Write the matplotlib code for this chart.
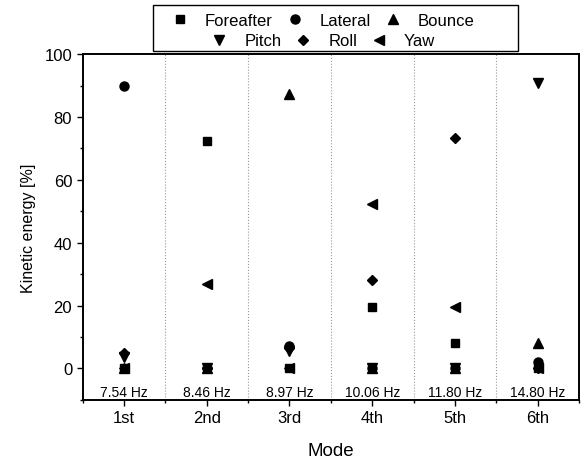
import numpy as np
import matplotlib.pyplot as plt
from matplotlib.patches import Rectangle

plt.rcParams['font.family'] = ['Liberation Sans', 'DejaVu Sans']

modes = ['1st', '2nd', '3rd', '4th', '5th', '6th']
freqs = ['7.54 Hz', '8.46 Hz', '8.97 Hz', '10.06 Hz', '11.80 Hz', '14.80 Hz']

foreafter = [0, 72.5, 0, 19.5, 8, 0]
lateral = [90, 0, 7.3, 0, 0, 2]
bounce = [0, 0, 87.3, 0, 0, 8.2]
pitch = [3.5, 0, 5.5, 0, 0, 90.7]
roll = [4.8, 0, 6.5, 28, 73.2, 0]
yaw = [0, 26.8, 0, 52.2, 19.5, 0]

series = [
    ('Foreafter', foreafter, 's', 5.5),
    ('Lateral', lateral, 'o', 6.5),
    ('Bounce', bounce, '^', 6.5),
    ('Pitch', pitch, 'v', 6.5),
    ('Roll', roll, 'D', 5),
    ('Yaw', yaw, '<', 6.5),
]


def plot():
    fig = plt.figure(figsize=(5.82, 4.64), dpi=100)
    ax = fig.add_axes([0.142, 0.136, 0.853, 0.745])
    x = np.arange(1, len(modes) + 1)

    handles = []
    for name, vals, mk, ms in series:
        h, = ax.plot(x, vals, mk, color='black', markersize=ms, label=name,
                     linestyle='none')
        handles.append(h)

    for i, f in enumerate(freqs):
        ax.text(x[i], -7.6, f, ha='center', va='center', fontsize=10)

    for xv in np.arange(1.5, 6.5, 1):
        ax.axvline(xv, color='#999999', linestyle=':', linewidth=0.8)

    ax.set_xlim(0.5, 6.5)
    ax.set_ylim(-10, 100)
    ax.set_xticks(x)
    ax.set_xticklabels(modes)
    ax.set_xticks(np.arange(0.5, 7, 1), minor=True)
    ax.set_yticks(np.arange(0, 101, 20))
    ax.set_yticks(np.arange(-10, 101, 10), minor=True)
    ax.tick_params(axis='both', which='major', labelsize=12, length=4, width=1)
    ax.tick_params(axis='both', which='minor', length=2, width=1)
    for sp in ax.spines.values():
        sp.set_linewidth(1.4)

    ax.set_xlabel('Mode', fontsize=13.5, labelpad=12)
    ax.set_ylabel('Kinetic energy [%]', fontsize=11.5, labelpad=6)

    # legend: framed box with two centred rows (Origin style)
    box = Rectangle((153 / 582, 1 - 52 / 464), 365 / 582, 46 / 464,
                    transform=fig.transFigure, facecolor='white',
                    edgecolor='black', linewidth=1.0, zorder=5)
    fig.add_artist(box)
    kw = dict(ncol=3, loc='center', frameon=False, fontsize=12,
              handletextpad=1.0, columnspacing=0.8, handlelength=1.0,
              borderpad=0, borderaxespad=0)
    leg1 = fig.legend(handles[:3], [s[0] for s in series[:3]],
                      bbox_to_anchor=(0.555, 1 - 21 / 464), **kw)
    leg2 = fig.legend(handles[3:], [s[0] for s in series[3:]],
                      bbox_to_anchor=(0.555, 1 - 42 / 464), **kw)
    leg1.set_zorder(6)
    leg2.set_zorder(6)

    fig.savefig('out.png', dpi=100)


if __name__ == '__main__':
    plot()
